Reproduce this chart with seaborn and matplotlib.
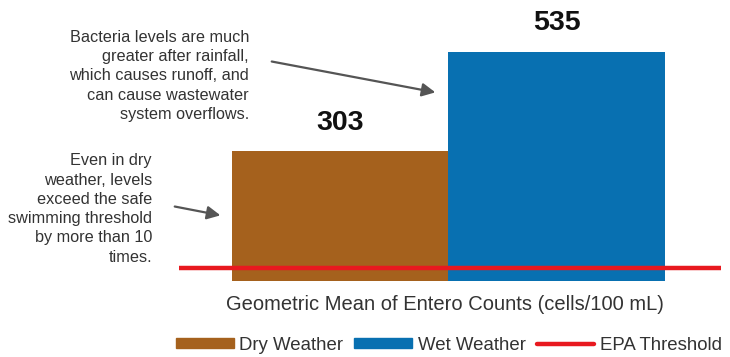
import pandas as pd
import numpy as np
import matplotlib.pyplot as plt
import seaborn as sns
from matplotlib.patches import Patch
from matplotlib.lines import Line2D

conditions = ['Dry Weather', 'Wet Weather']
entero_counts = [303, 535]
bar_colors = ['#A5611D', '#0870B1']
epa_threshold = 30

note_wet = ('Bacteria levels are much\ngreater after rainfall,\nwhich causes runoff, and\n'
            'can cause wastewater\nsystem overflows.')
note_dry = ('Even in dry\nweather, levels\nexceed the safe\nswimming threshold\n'
            'by more than 10\ntimes.')
axis_label = 'Geometric Mean of Entero Counts (cells/100 mL)'

sns.set_style('white')
plt.rcParams['font.family'] = ['Liberation Sans', 'DejaVu Sans']

df = pd.DataFrame({'condition': conditions, 'count': entero_counts})

fig = plt.figure(figsize=(7.3, 3.57), dpi=100)
ax = fig.add_axes([179 / 730, 76 / 357, 542 / 730, 271 / 357])

sns.barplot(data=df, x='condition', y='count', hue='condition', palette=bar_colors,
            width=1.0, legend=False, ax=ax, saturation=1, linewidth=0)
ax.axhline(epa_threshold, color='#E8191F', lw=3.2, zorder=5)

ax.set_xlim(-0.744, 1.76)
ax.set_ylim(0, 271 / 0.4285)

for p, val in zip(ax.patches, entero_counts):
    ax.annotate(f'{val}', (p.get_x() + p.get_width() / 2, p.get_height()),
                xytext=(0, 11), textcoords='offset points',
                ha='center', va='bottom', fontsize=20.5, fontweight='bold', color='#111111')

ax.set_xlabel('')
ax.set_ylabel('')
ax.set_xticks([])
ax.set_yticks([])
sns.despine(ax=ax, left=True, bottom=True)

fig.text(249 / 730, 1 - 76 / 357, note_wet, ha='right', va='center', fontsize=11.7,
         color='#333333', linespacing=1.36)
fig.text(152 / 730, 1 - 209 / 357, note_dry, ha='right', va='center', fontsize=11.7,
         color='#333333', linespacing=1.36)

arrow = dict(arrowstyle='-|>', color='#555555', lw=1.6, mutation_scale=20)
ax.annotate('', xy=(0.453, 439), xycoords='data',
            xytext=(269, 357 - 61), textcoords='figure pixels', arrowprops=arrow)
ax.annotate('', xy=(-0.54, 152), xycoords='data',
            xytext=(172, 357 - 206), textcoords='figure pixels', arrowprops=arrow)

fig.text(445 / 730, 1 - 305 / 357, axis_label, ha='center', va='center',
         fontsize=14.5, color='#333333')

handles = [Patch(color=bar_colors[0], label=conditions[0]),
           Patch(color=bar_colors[1], label=conditions[1]),
           Line2D([0], [0], color='#E8191F', lw=3.2, label='EPA Threshold')]
fig.legend(handles=handles, loc='center', bbox_to_anchor=(449 / 730, 1 - 345 / 357),
           ncol=3, frameon=False, fontsize=13.4, handlelength=3.1, handleheight=0.5,
           handletextpad=0.3, columnspacing=0.6, labelcolor='#333333',
           borderpad=0, borderaxespad=0)

fig.savefig('out.png', dpi=100)
